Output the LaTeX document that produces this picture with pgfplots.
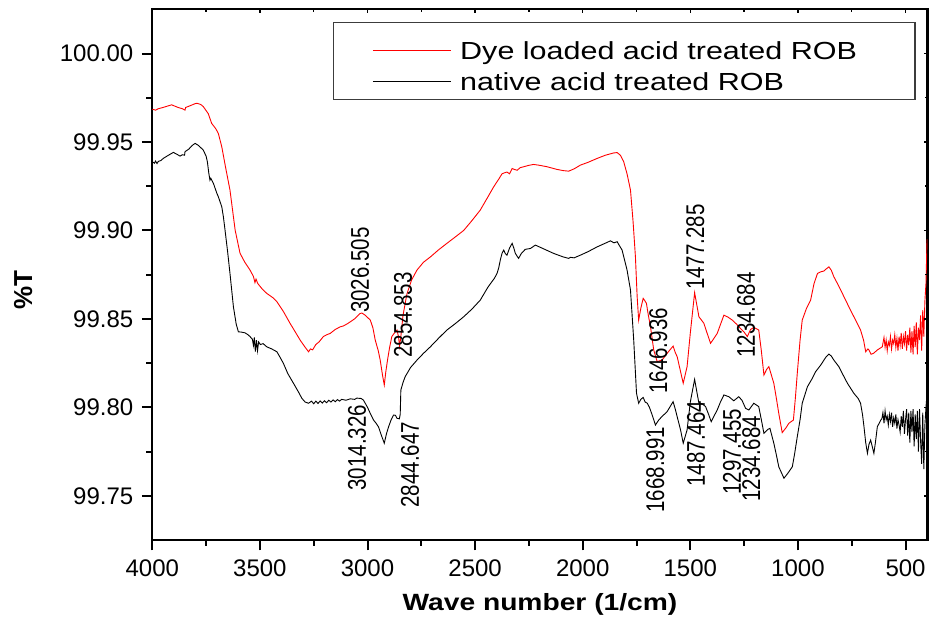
\documentclass[border=0pt]{standalone}
\usepackage{pgfplots}
\pgfplotsset{compat=1.18}
\usepackage{fontspec}
\setmainfont{Liberation Sans}
\usepackage{graphicx}

\definecolor{dyered}{RGB}{255,0,0}
\definecolor{legframe}{RGB}{60,60,60}

\newcommand{\tickfont}{\fontsize{24}{24}\selectfont}
\newcommand{\peakfont}{\fontsize{20.5}{20.5}\selectfont}
\newcommand{\peak}[1]{\scalebox{1}[1.25]{#1}}
% legend text: strut depth, strut total height, text (whole box lifted onto the baseline)
\newcommand{\legtext}[3]{\makebox[454.7pt][l]{\raisebox{#1}{\rule[-#1]{0pt}{#2}\scalebox{1.235}[1]{#3}}}}

% FTIR transmittance spectra (wavenumber in 1/cm, %T)
\pgfplotstableread{
w T
4000 99.9685
3985 99.9680
3972 99.9688
3950 99.9695
3910 99.9710
3880 99.9695
3860 99.9688
3848 99.9680
3845 99.9695
3830 99.9702
3800 99.9717
3793 99.9719
3775 99.9712
3763 99.9700
3740 99.9660
3724 99.9605
3705 99.9575
3693 99.9548
3677 99.9472
3660 99.9360
3639 99.9228
3615 99.9002
3600 99.8915
3592 99.8870
3570 99.8820
3546 99.8776
3530 99.8740
3523 99.8705
3518 99.8725
3510 99.8700
3490 99.8670
3468 99.8644
3440 99.8620
3421 99.8597
3390 99.8540
3360 99.8475
3335 99.8425
3313 99.8380
3290 99.8340
3274 99.8314
3265 99.8330
3255 99.8325
3240 99.8355
3225 99.8370
3205 99.8400
3190 99.8410
3173 99.8418
3150 99.8440
3127 99.8455
3112 99.8460
3090 99.8475
3060 99.8500
3035 99.8530
3026 99.8533
3010 99.8520
2987 99.8493
2975 99.8450
2964 99.8380
2950 99.8320
2941 99.8267
2930 99.8180
2922 99.8126
2915 99.8200
2907 99.8267
2897 99.8340
2887 99.8400
2875 99.8420
2863 99.8437
2856 99.8400
2851 99.8345
2845 99.8400
2835 99.8520
2817 99.8640
2795 99.8720
2770 99.8776
2740 99.8820
2708 99.8850
2670 99.8890
2631 99.8927
2590 99.8965
2553 99.9000
2515 99.9055
2476 99.9115
2445 99.9180
2414 99.9246
2390 99.9290
2375 99.9320
2365 99.9325
2352 99.9330
2340 99.9320
2328 99.9350
2318 99.9345
2305 99.9340
2290 99.9355
2274 99.9360
2250 99.9368
2228 99.9373
2200 99.9368
2166 99.9360
2120 99.9345
2090 99.9338
2065 99.9335
2040 99.9348
2011 99.9369
1975 99.9385
1933 99.9407
1895 99.9425
1856 99.9438
1840 99.9440
1825 99.9425
1810 99.9390
1794 99.9320
1778 99.9228
1766 99.9050
1755 99.8850
1747 99.8625
1740 99.8493
1730 99.8560
1719 99.8616
1710 99.8600
1704 99.8588
1695 99.8520
1685 99.8455
1670 99.8324
1654 99.8258
1645 99.8262
1631 99.8267
1608 99.8305
1580 99.8346
1570 99.8310
1561 99.8286
1545 99.8200
1533 99.8136
1515 99.8230
1500 99.8420
1480 99.8648
1470 99.8580
1460 99.8512
1437 99.8475
1425 99.8430
1406 99.8362
1390 99.8390
1375 99.8418
1344 99.8521
1325 99.8510
1305 99.8493
1285 99.8470
1267 99.8446
1250 99.8425
1235 99.8400
1220 99.8440
1205 99.8452
1182 99.8437
1170 99.8320
1158 99.8183
1145 99.8215
1135 99.8230
1112 99.8136
1100 99.8050
1089 99.7966
1073 99.7857
1055 99.7885
1042 99.7910
1021 99.7928
1012 99.8050
1003 99.8192
990 99.8380
980 99.8493
960 99.8560
941 99.8606
925 99.8700
909 99.8757
894 99.8766
880 99.8770
871 99.8780
856 99.8794
845 99.8775
833 99.8738
810 99.8685
786 99.8625
760 99.8560
740 99.8512
709 99.8437
695 99.8380
685 99.8314
675 99.8330
670 99.8324
660 99.8300
649 99.8305
630 99.8325
608 99.8342
600 99.8395
595 99.8340
590 99.8380
585 99.8320
580 99.8370
575 99.8350
570 99.8400
565 99.8330
560 99.8380
555 99.8360
550 99.8410
545 99.8340
540 99.8390
535 99.8320
530 99.8400
525 99.8350
520 99.8420
515 99.8330
510 99.8400
505 99.8360
500 99.8430
495 99.8320
490 99.8410
485 99.8350
480 99.8450
475 99.8310
470 99.8430
465 99.8300
460 99.8460
455 99.8340
450 99.8480
445 99.8300
440 99.8450
435 99.8380
430 99.8520
425 99.8320
420 99.8550
415 99.8400
410 99.8600
405 99.8700
400 99.8950
}\dyeloaded

\pgfplotstableread{
w T
4000 99.9388
3990 99.9380
3985 99.9392
3978 99.9378
3972 99.9390
3960 99.9395
3949 99.9407
3925 99.9425
3902 99.9441
3885 99.9430
3871 99.9420
3860 99.9428
3850 99.9425
3848 99.9445
3830 99.9460
3815 99.9480
3801 99.9492
3785 99.9480
3763 99.9454
3750 99.9420
3744 99.9388
3737 99.9320
3732 99.9284
3728 99.9295
3716 99.9266
3700 99.9210
3693 99.9190
3677 99.9133
3670 99.9080
3662 99.9002
3650 99.8880
3639 99.8757
3623 99.8568
3610 99.8470
3600 99.8427
3585 99.8425
3569 99.8421
3555 99.8410
3546 99.8400
3535 99.8385
3530 99.8350
3526 99.8395
3521 99.8315
3516 99.8380
3511 99.8320
3506 99.8370
3498 99.8355
3485 99.8360
3468 99.8342
3445 99.8330
3421 99.8314
3405 99.8280
3391 99.8249
3370 99.8190
3344 99.8136
3320 99.8085
3305 99.8051
3290 99.8030
3274 99.8023
3260 99.8035
3250 99.8020
3240 99.8035
3230 99.8022
3220 99.8036
3210 99.8024
3200 99.8037
3190 99.8026
3180 99.8040
3170 99.8030
3160 99.8042
3150 99.8032
3140 99.8044
3130 99.8035
3120 99.8045
3100 99.8040
3080 99.8048
3060 99.8045
3049 99.8052
3030 99.8050
3019 99.8041
3000 99.8000
2985 99.7960
2972 99.7928
2960 99.7910
2949 99.7890
2935 99.7840
2922 99.7797
2912 99.7850
2902 99.7890
2890 99.7930
2879 99.7956
2870 99.7955
2863 99.7938
2852 99.7935
2848 99.7960
2845 99.8098
2835 99.8140
2825 99.8173
2800 99.8225
2770 99.8267
2740 99.8305
2708 99.8342
2670 99.8390
2631 99.8437
2590 99.8475
2553 99.8512
2515 99.8555
2476 99.8606
2440 99.8680
2410 99.8730
2398 99.8757
2390 99.8790
2383 99.8832
2375 99.8870
2367 99.8889
2360 99.8870
2352 99.8860
2340 99.8900
2328 99.8927
2320 99.8900
2313 99.8870
2298 99.8842
2285 99.8870
2267 99.8893
2243 99.8898
2220 99.8917
2180 99.8895
2135 99.8870
2090 99.8850
2065 99.8842
2057 99.8848
2040 99.8845
2011 99.8860
1975 99.8880
1933 99.8907
1900 99.8925
1871 99.8941
1855 99.8930
1840 99.8936
1825 99.8905
1817 99.8889
1794 99.8776
1778 99.8663
1763 99.8380
1750 99.8079
1740 99.8023
1730 99.8045
1719 99.8056
1710 99.8030
1700 99.8023
1690 99.8000
1677 99.7956
1662 99.7900
1647 99.7928
1630 99.7950
1608 99.7975
1580 99.8032
1570 99.7990
1561 99.7947
1545 99.7870
1533 99.7797
1515 99.7872
1500 99.8030
1480 99.8158
1470 99.8090
1460 99.8023
1445 99.8020
1429 99.8004
1415 99.7960
1403 99.7919
1390 99.7950
1375 99.7985
1360 99.8030
1344 99.8070
1321 99.8060
1298 99.8037
1275 99.8060
1260 99.8040
1243 99.7994
1228 99.7985
1205 99.8023
1182 99.8004
1170 99.7930
1158 99.7853
1140 99.7875
1130 99.7881
1112 99.7797
1100 99.7730
1089 99.7664
1065 99.7599
1047 99.7627
1026 99.7664
1015 99.7740
1003 99.7834
990 99.7930
980 99.8023
956 99.8116
935 99.8160
918 99.8201
894 99.8239
871 99.8282
856 99.8301
845 99.8290
833 99.8267
810 99.8230
794 99.8192
770 99.8136
740 99.8079
720 99.8050
709 99.8023
700 99.7960
693 99.7890
685 99.7800
677 99.7740
670 99.7790
662 99.7815
655 99.7780
647 99.7740
640 99.7800
631 99.7890
615 99.7928
610 99.7935
605 99.7970
600 99.7910
595 99.7980
590 99.7930
585 99.7950
580 99.7900
575 99.7960
570 99.7920
565 99.7970
560 99.7890
555 99.7940
550 99.7910
545 99.7960
540 99.7880
535 99.7930
530 99.7900
525 99.7860
520 99.7950
515 99.7890
510 99.7980
505 99.7850
500 99.7930
495 99.7990
490 99.7840
485 99.7970
480 99.7800
475 99.7980
470 99.7860
465 99.7990
460 99.7780
455 99.7960
450 99.7820
445 99.7980
440 99.7750
435 99.7990
430 99.7810
425 99.7680
420 99.7970
415 99.7650
410 99.7900
405 99.8000
400 99.8080
}\native

\begin{document}
\begin{tikzpicture}
\useasboundingbox (0pt,0pt) rectangle (930pt,624pt);

\begin{axis}[
  at={(152.3pt,84pt)}, anchor=south west,
  scale only axis, width=775.4pt, height=530.7pt,
  x dir=reverse,
  xmin=397, xmax=4000,
  ymin=99.725, ymax=100.025,
  xtick={500,1000,...,4000},
  ytick={99.75,99.80,...,100.00},
  minor x tick num=1,
  minor y tick num=1,
  xtick pos=lower, ytick pos=lower,
  tick align=outside,
  major tick length=10.5pt,
  minor tick length=6pt,
  major tick style={line width=2pt, black},
  minor tick style={line width=2pt, black},
  axis line style={line width=2.4pt},
  tick label style={font=\tickfont},
  /pgf/number format/assume math mode=true,
  xticklabel style={yshift=-6pt, /pgf/number format/.cd, set thousands separator={}, fixed},
  yticklabel style={xshift=-5pt, /pgf/number format/.cd, fixed, fixed zerofill, precision=2},
  xlabel={\scalebox{1.2}[1]{\textbf{Wave number (1/cm)}}},
  ylabel={\textbf{\%T}},
  xlabel style={font=\fontsize{23.5}{23.5}\selectfont, at={(axis description cs:0.5,-0.1206)}, anchor=center},
  ylabel style={font=\fontsize{26}{26}\selectfont, at={(axis description cs:-0.1664,0.471)}, anchor=center, rotate=0},
  legend style={at={(rel axis cs:0.2327,0.9755)}, anchor=north west,
    draw=legframe, line width=1.2pt, inner xsep=0pt, inner ysep=7.2pt,
    row sep=0pt, nodes={inner sep=0pt, text depth=0pt},
    font=\fontsize{24.7}{24.7}\selectfont},
  legend cell align=left,
  legend image code/.code={%
    \path (-39pt,0pt) (87pt,0pt);
    \draw[#1, line width=1pt] (0pt,0pt) -- (78pt,0pt);},
]
\addplot[dyered, line width=0.9pt] table[x=w, y=T] {\dyeloaded};
\addlegendentry{\legtext{11.65pt}{41pt}{Dye loaded acid treated ROB}}
\addplot[black, line width=0.9pt] table[x=w, y=T] {\native};
\addlegendentry{\legtext{1.65pt}{21pt}{native acid treated ROB}}

% peak annotations
\begin{scope}[every node/.style={font=\peakfont, rotate=90, anchor=center, inner sep=0pt}]
\node at (axis cs:3035,99.8776) {\peak{3026.505}};
\node at (axis cs:2835,99.8522) {\peak{2854.853}};
\node at (axis cs:3049,99.7771) {\peak{3014.326}};
\node at (axis cs:2802,99.7675) {\peak{2844.647}};
\node at (axis cs:1649,99.8319) {\peak{1646.936}};
\node at (axis cs:1477,99.8906) {\peak{1477.285}};
\node at (axis cs:1663,99.7647) {\peak{1668.991}};
\node at (axis cs:1473,99.7794) {\peak{1487.464}};
\node at (axis cs:1306,99.7748) {\peak{1297.455}};
\node at (axis cs:1217,99.7709) {\peak{1234.684}};
\node at (axis cs:1241,99.8522) {\peak{1234.684}};
\end{scope}
\end{axis}

% inward ticks on the top and right edges
\begin{axis}[
  at={(152.3pt,84pt)}, anchor=south west,
  scale only axis, width=775.4pt, height=530.7pt,
  x dir=reverse,
  xmin=397, xmax=4000,
  ymin=99.725, ymax=100.025,
  xtick={500,1000,...,4000},
  ytick={99.75,99.80,...,100.00},
  minor x tick num=1,
  minor y tick num=1,
  xtick pos=upper, ytick pos=upper,
  tick align=inside,
  major tick length=4pt,
  minor tick length=3pt,
  major tick style={line width=1.5pt, black},
  minor tick style={line width=1.5pt, black},
  axis line style={draw=none},
  xticklabels={}, yticklabels={},
]
\end{axis}
\end{tikzpicture}
\end{document}
